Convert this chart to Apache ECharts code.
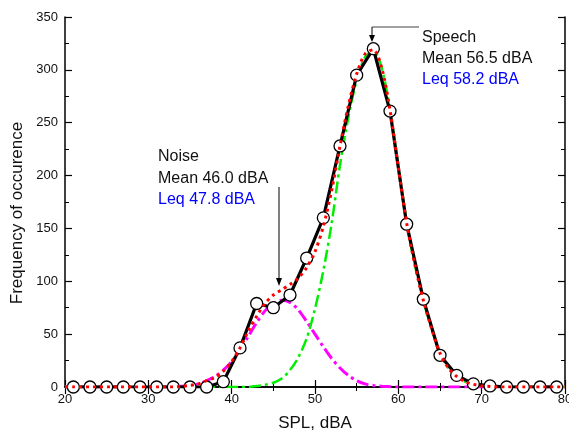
<!DOCTYPE html>
<html>
<head>
<meta charset="utf-8">
<script src="https://cdn.jsdelivr.net/npm/echarts@6/dist/echarts.min.js"></script>
<style>
html,body{margin:0;padding:0;background:#fff;}
#c{width:569px;height:432px;}
</style>
</head>
<body>
<div id="c"></div>
<script>
// Measured histogram (circles)
const measX = [21,23,25,27,29,31,33,35,37,39,41,43,45,47,49,51,53,55,57,59,61,63,65,67,69,71,73,75,77,79];
const measY = [0,0,0,0,0,0,0,0,0,5,37,79,75,87,122,160,228,295,320,261,154,83,30,11,3,1,0,0,0,0];

// Fit curves read at integer SPL values 20..80
const fitX = [20,21,22,23,24,25,26,27,28,29,30,31,32,33,34,35,36,37,38,39,40,41,42,43,44,45,46,47,48,49,50,51,52,53,54,55,56,57,58,59,60,61,62,63,64,65,66,67,68,69,70,71,72,73,74,75,76,77,78,79,80];
const noiseFit = [0,0,0,0,0,0,0,0,0,0,0,0,0,0.3,0.7,1.5,3,6,10,16,24,35,48,61,72,79,82,80,73,62,50,38,27,18,11,6,3,1.5,0.7,0.3,0,0,0,0,0,0,0,0,0,0,0,0,0,0,0,0,0,0,0,0,0];
const speechFit = [0,0,0,0,0,0,0,0,0,0,0,0,0,0,0,0,0,0,0,0,0,0,0,1,2,4,8,16,28,46,74,110,155,210,255,290,312,318,302,262,208,155,115,82,55,32,18,10,5,2.5,1,0.5,0,0,0,0,0,0,0,0,0];
const totalFit = [0,0,0,0,0,0,0,0,0,0,0,0,0,0,0.7,1.5,3,6,9,15,24,37,53,67,79,87,92,97,103,113,128,152,186,228,266,296,315,319,302,262,208,155,115,82,55,32,18,10,5,2.5,1,0.5,0,0,0,0,0,0,0,0,0];

const xTitle = 'SPL, dBA';
const yTitle = 'Frequency of occurence';

const pair = (xs, ys) => xs.map((x, i) => [x, ys[i]]);

const FONT = '"Liberation Sans", Arial, sans-serif';
const chart = echarts.init(document.getElementById('c'));

const tickCommon = {
  axisLine: {show: true, lineStyle: {color: '#000', width: 1.5}},
  axisTick: {show: true, inside: true, length: 7, lineStyle: {color: '#000', width: 1.2}},
  minorTick: {show: true, splitNumber: 2, length: 4, lineStyle: {color: '#000', width: 1}},
  splitLine: {show: false},
  minorSplitLine: {show: false}
};

chart.setOption({
  animation: false,
  backgroundColor: '#fff',
  grid: {left: 65, right: 4, top: 17, bottom: 45, containLabel: false, outerBoundsMode: 'none'},
  xAxis: [
    Object.assign({
      type: 'value', min: 20, max: 80, interval: 10, position: 'bottom',
      name: xTitle, nameLocation: 'middle', nameGap: 28,
      nameTextStyle: {fontFamily: FONT, fontSize: 17, color: '#111'},
      axisLabel: {fontFamily: FONT, fontSize: 13, color: '#111', margin: 6}
    }, tickCommon),
    Object.assign({
      type: 'value', min: 20, max: 80, interval: 10, position: 'top',
      axisLabel: {show: false}
    }, tickCommon)
  ],
  yAxis: [
    Object.assign({
      type: 'value', min: 0, max: 350, interval: 50, position: 'left',
      name: yTitle, nameLocation: 'middle', nameGap: 33, nameRotate: 90,
      nameTextStyle: {fontFamily: FONT, fontSize: 17, color: '#111', padding: [0, 22, 0, 0]},
      axisLabel: {fontFamily: FONT, fontSize: 13, color: '#111', margin: 7}
    }, tickCommon),
    Object.assign({
      type: 'value', min: 0, max: 350, interval: 50, position: 'right',
      axisLabel: {show: false}
    }, tickCommon)
  ],
  series: [
    {
      type: 'line', data: pair(fitX, noiseFit), showSymbol: false, symbol: 'none',
      smooth: 0.3, lineStyle: {color: '#ff00ff', width: 3, type: [12, 4, 3, 4]}, z: 2
    },
    {
      type: 'line', data: pair(fitX, speechFit), showSymbol: false, symbol: 'none',
      smooth: 0.3, lineStyle: {color: '#00ee00', width: 2.5, type: [12, 4, 3, 4]}, z: 3
    },
    {
      type: 'line', data: pair(measX, measY), symbol: 'circle', symbolSize: 12,
      itemStyle: {color: '#fff', borderColor: '#000', borderWidth: 1.3},
      lineStyle: {color: '#000', width: 3.2}, z: 4
    },
    {
      type: 'line', data: pair(fitX, totalFit), showSymbol: false, symbol: 'none',
      smooth: 0.3, lineStyle: {color: '#ff0000', width: 3, type: [3, 4]}, z: 5
    }
  ],
  graphic: [
    {type: 'line', shape: {x1: 372, y1: 27, x2: 419, y2: 27}, style: {stroke: '#808080', lineWidth: 1.5}, z: 10},
    {type: 'line', shape: {x1: 372, y1: 27, x2: 372, y2: 36}, style: {stroke: '#000', lineWidth: 1}, z: 10},
    {type: 'polygon', shape: {points: [[369, 35], [375, 35], [372, 42]]}, style: {fill: '#000'}, z: 10},
    {type: 'line', shape: {x1: 279, y1: 187, x2: 279, y2: 279}, style: {stroke: '#000', lineWidth: 1}, z: 10},
    {type: 'polygon', shape: {points: [[276, 278], [282, 278], [279, 286]]}, style: {fill: '#000'}, z: 10},
    {type: 'text', x: 422, y: 38, style: {text: 'Speech', fill: '#111', font: '16px ' + FONT, verticalAlign: 'middle', align: 'left'}, z: 10},
    {type: 'text', x: 422, y: 59, style: {text: 'Mean 56.5 dBA', fill: '#111', font: '16px ' + FONT, verticalAlign: 'middle', align: 'left'}, z: 10},
    {type: 'text', x: 422, y: 80, style: {text: 'Leq 58.2 dBA', fill: '#0000ff', font: '16px ' + FONT, verticalAlign: 'middle', align: 'left'}, z: 10},
    {type: 'text', x: 158, y: 157, style: {text: 'Noise', fill: '#111', font: '16px ' + FONT, verticalAlign: 'middle', align: 'left'}, z: 10},
    {type: 'text', x: 158, y: 178.5, style: {text: 'Mean 46.0 dBA', fill: '#111', font: '16px ' + FONT, verticalAlign: 'middle', align: 'left'}, z: 10},
    {type: 'text', x: 158, y: 200, style: {text: 'Leq 47.8 dBA', fill: '#0000ff', font: '16px ' + FONT, verticalAlign: 'middle', align: 'left'}, z: 10}
  ]
});
</script>
</body>
</html>
